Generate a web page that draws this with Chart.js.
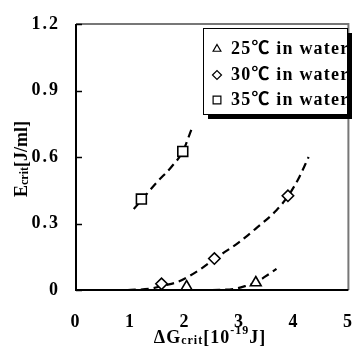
<!DOCTYPE html>
<html>
<head>
<meta charset="utf-8">
<script src="https://cdn.jsdelivr.net/npm/chart.js@4/dist/chart.umd.min.js"></script>
<style>
  html, body { margin: 0; padding: 0; background: #fff; }
  canvas { display: block; }
</style>
</head>
<body>
<canvas id="chart" width="357" height="354"></canvas>
<script>
// legend / series names
const seriesLabels = ['25℃ in water', '30℃ in water', '35℃ in water'];
const markerStyles = ['triangle', 'rectRot', 'rect'];

// measured points
const pts25x = [2.03, 3.3];
const pts25y = [0.015, 0.033];
const pts30x = [1.57, 2.54, 3.89];
const pts30y = [0.028, 0.142, 0.425];
const pts35x = [1.2, 1.96];
const pts35y = [0.41, 0.625];

// dashed fit curves
const fit25x = [2.5, 2.9, 3.14, 3.3, 3.47, 3.68];
const fit25y = [0, 0.005, 0.02, 0.033, 0.06, 0.095];
const fit30x = [0.95, 1.37, 1.6, 1.85, 2.06, 2.29, 2.54, 2.99, 3.29, 3.68, 3.91, 4.1, 4.27];
const fit30y = [0, 0.006, 0.02, 0.035, 0.06, 0.095, 0.14, 0.215, 0.275, 0.36, 0.43, 0.51, 0.6];
const fit35x = [1.06, 1.2, 1.5, 1.75, 1.96, 2.12];
const fit35y = [0.365, 0.405, 0.49, 0.555, 0.625, 0.725];

// axes
const xTicks = [0, 1, 2, 3, 4, 5];
const yTickLabels = ['0', '0.3', '0.6', '0.9', '1.2'];

const FONT = '"Liberation Serif", "Noto Sans CJK JP", serif';

const toXY = (xs, ys) => xs.map((x, i) => ({ x: x, y: ys[i] }));

const curve = (xs, ys) => ({
  type: 'line',
  data: toXY(xs, ys),
  borderColor: '#000',
  borderWidth: 2.2,
  borderDash: [8, 5],
  pointRadius: 0,
  fill: false,
  cubicInterpolationMode: 'monotone',
  isFit: true,
  order: 2,
});

const marker = (xs, ys, i, r) => ({
  type: 'scatter',
  label: seriesLabels[i],
  data: toXY(xs, ys),
  pointStyle: markerStyles[i],
  pointRadius: r,
  pointBorderWidth: 1.6,
  pointBorderColor: '#000',
  pointBackgroundColor: '#fff',
  order: 1,
});

// frame, inner ticks, axis titles with sub/superscripts, boxed legend
const decor = {
  id: 'decor',
  beforeDraw(chart) {
    // wider-set digits like the original font
    chart.ctx.letterSpacing = '2px';
  },
  afterDraw(chart) {
    const ctx = chart.ctx;
    ctx.letterSpacing = '0px';
    const a = chart.chartArea;
    const ys = chart.scales.y;
    ctx.save();

    // top + right border (grey)
    ctx.strokeStyle = '#777';
    ctx.lineWidth = 2;
    ctx.beginPath();
    ctx.moveTo(a.left, a.top);
    ctx.lineTo(a.right, a.top);
    ctx.lineTo(a.right, a.bottom);
    ctx.stroke();

    // left + bottom axis (black)
    ctx.strokeStyle = '#000';
    ctx.beginPath();
    ctx.moveTo(a.left, a.top);
    ctx.lineTo(a.left, a.bottom);
    ctx.lineTo(a.right, a.bottom);
    ctx.stroke();

    // inward tick marks on y
    ctx.lineWidth = 1.5;
    ys.ticks.forEach(t => {
      const py = Math.round(ys.getPixelForValue(t.value)) + 0.5;
      ctx.beginPath();
      ctx.moveTo(a.left, py);
      ctx.lineTo(a.left + 6, py);
      ctx.stroke();
    });

    // axis titles
    const big = 'bold 18px ' + FONT;
    const small = 'bold 12px ' + FONT;
    const drawRuns = (runs, cx, baseY, spacing) => {
      ctx.letterSpacing = spacing + 'px';
      let w = 0;
      runs.forEach(r => { ctx.font = r[1]; w += ctx.measureText(r[0]).width; });
      let x = cx - w / 2;
      ctx.textBaseline = 'alphabetic';
      ctx.textAlign = 'left';
      ctx.fillStyle = '#000';
      runs.forEach(r => {
        ctx.font = r[1];
        ctx.fillText(r[0], x, baseY + r[2]);
        x += ctx.measureText(r[0]).width;
      });
      ctx.letterSpacing = '0px';
    };
    drawRuns([['ΔG', big, 0], ['crit', small, 1], ['[10', big, 0], ['-19', small, -9], ['J]', big, 0]],
      210, 343, 1);

    ctx.save();
    ctx.translate(27, 159);
    ctx.rotate(-Math.PI / 2);
    drawRuns([['E', big, 0], ['crit', small, 1], ['[J/ml]', big, 0]], 0, 0, 0);
    ctx.restore();

    // legend box with shadow
    const bx = 203, by = 28, bw = 144, bh = 86;
    ctx.fillStyle = '#000';
    ctx.fillRect(bx + 5, by + 5, bw, bh);
    ctx.fillStyle = '#fff';
    ctx.fillRect(bx, by, bw, bh);
    ctx.strokeStyle = '#000';
    ctx.lineWidth = 1;
    ctx.strokeRect(bx + 0.5, by + 0.5, bw, bh);

    const rowY = [48, 74, 99];
    chart.data.datasets.filter(d => !d.isFit).forEach((d, i) => {
      ctx.strokeStyle = '#000';
      ctx.fillStyle = '#fff';
      ctx.lineWidth = 1.2;
      Chart.helpers.drawPoint(ctx, { pointStyle: d.pointStyle, radius: i === 2 ? 5.5 : 4.5, borderWidth: 1.2, rotation: 0 }, 217, rowY[i] + 1);
      ctx.save();
      ctx.beginPath();
      ctx.rect(bx, by, bw, bh);
      ctx.clip();
      ctx.fillStyle = '#000';
      ctx.font = 'bold 18px ' + FONT;
      ctx.letterSpacing = '1.2px';
      ctx.textBaseline = 'middle';
      ctx.textAlign = 'left';
      ctx.fillText(d.label, 231, rowY[i] + 1);
      ctx.restore();
    });

    ctx.restore();
  }
};

new Chart(document.getElementById('chart').getContext('2d'), {
  data: {
    datasets: [
      curve(fit25x, fit25y),
      curve(fit30x, fit30y),
      curve(fit35x, fit35y),
      marker(pts25x, pts25y, 0, 6.2),
      marker(pts30x, pts30y, 1, 5.7),
      marker(pts35x, pts35y, 2, 7),
    ],
  },
  options: {
    responsive: false,
    animation: false,
    devicePixelRatio: 1,
    layout: { padding: { top: 24, right: 4, left: 0, bottom: 0 } },
    plugins: { legend: { display: false }, tooltip: { enabled: false } },
    scales: {
      x: {
        type: 'linear',
        min: 0,
        max: 5,
        afterBuildTicks: s => { s.ticks = xTicks.map(v => ({ value: v })); },
        afterFit: s => { s.height = 64; s.paddingLeft = 0; s.paddingRight = 0; },
        grid: { display: false, drawTicks: false },
        border: { display: false },
        ticks: {
          padding: 22,
          color: '#000',
          font: { family: FONT, size: 18, weight: 'bold' },
          maxRotation: 0,
          autoSkip: false,
        },
      },
      y: {
        type: 'linear',
        min: 0,
        max: 1.2,
        afterBuildTicks: s => { s.ticks = yTickLabels.map(v => ({ value: Number(v) })); },
        afterFit: s => { s.width = 76; s.paddingTop = 0; s.paddingBottom = 0; },
        grid: { display: false, drawTicks: false },
        border: { display: false },
        ticks: {
          padding: 16,
          color: '#000',
          font: { family: FONT, size: 18, weight: 'bold' },
          callback: (v, i) => yTickLabels[i],
          autoSkip: false,
        },
      },
    },
  },
  plugins: [decor],
});
</script>
</body>
</html>
